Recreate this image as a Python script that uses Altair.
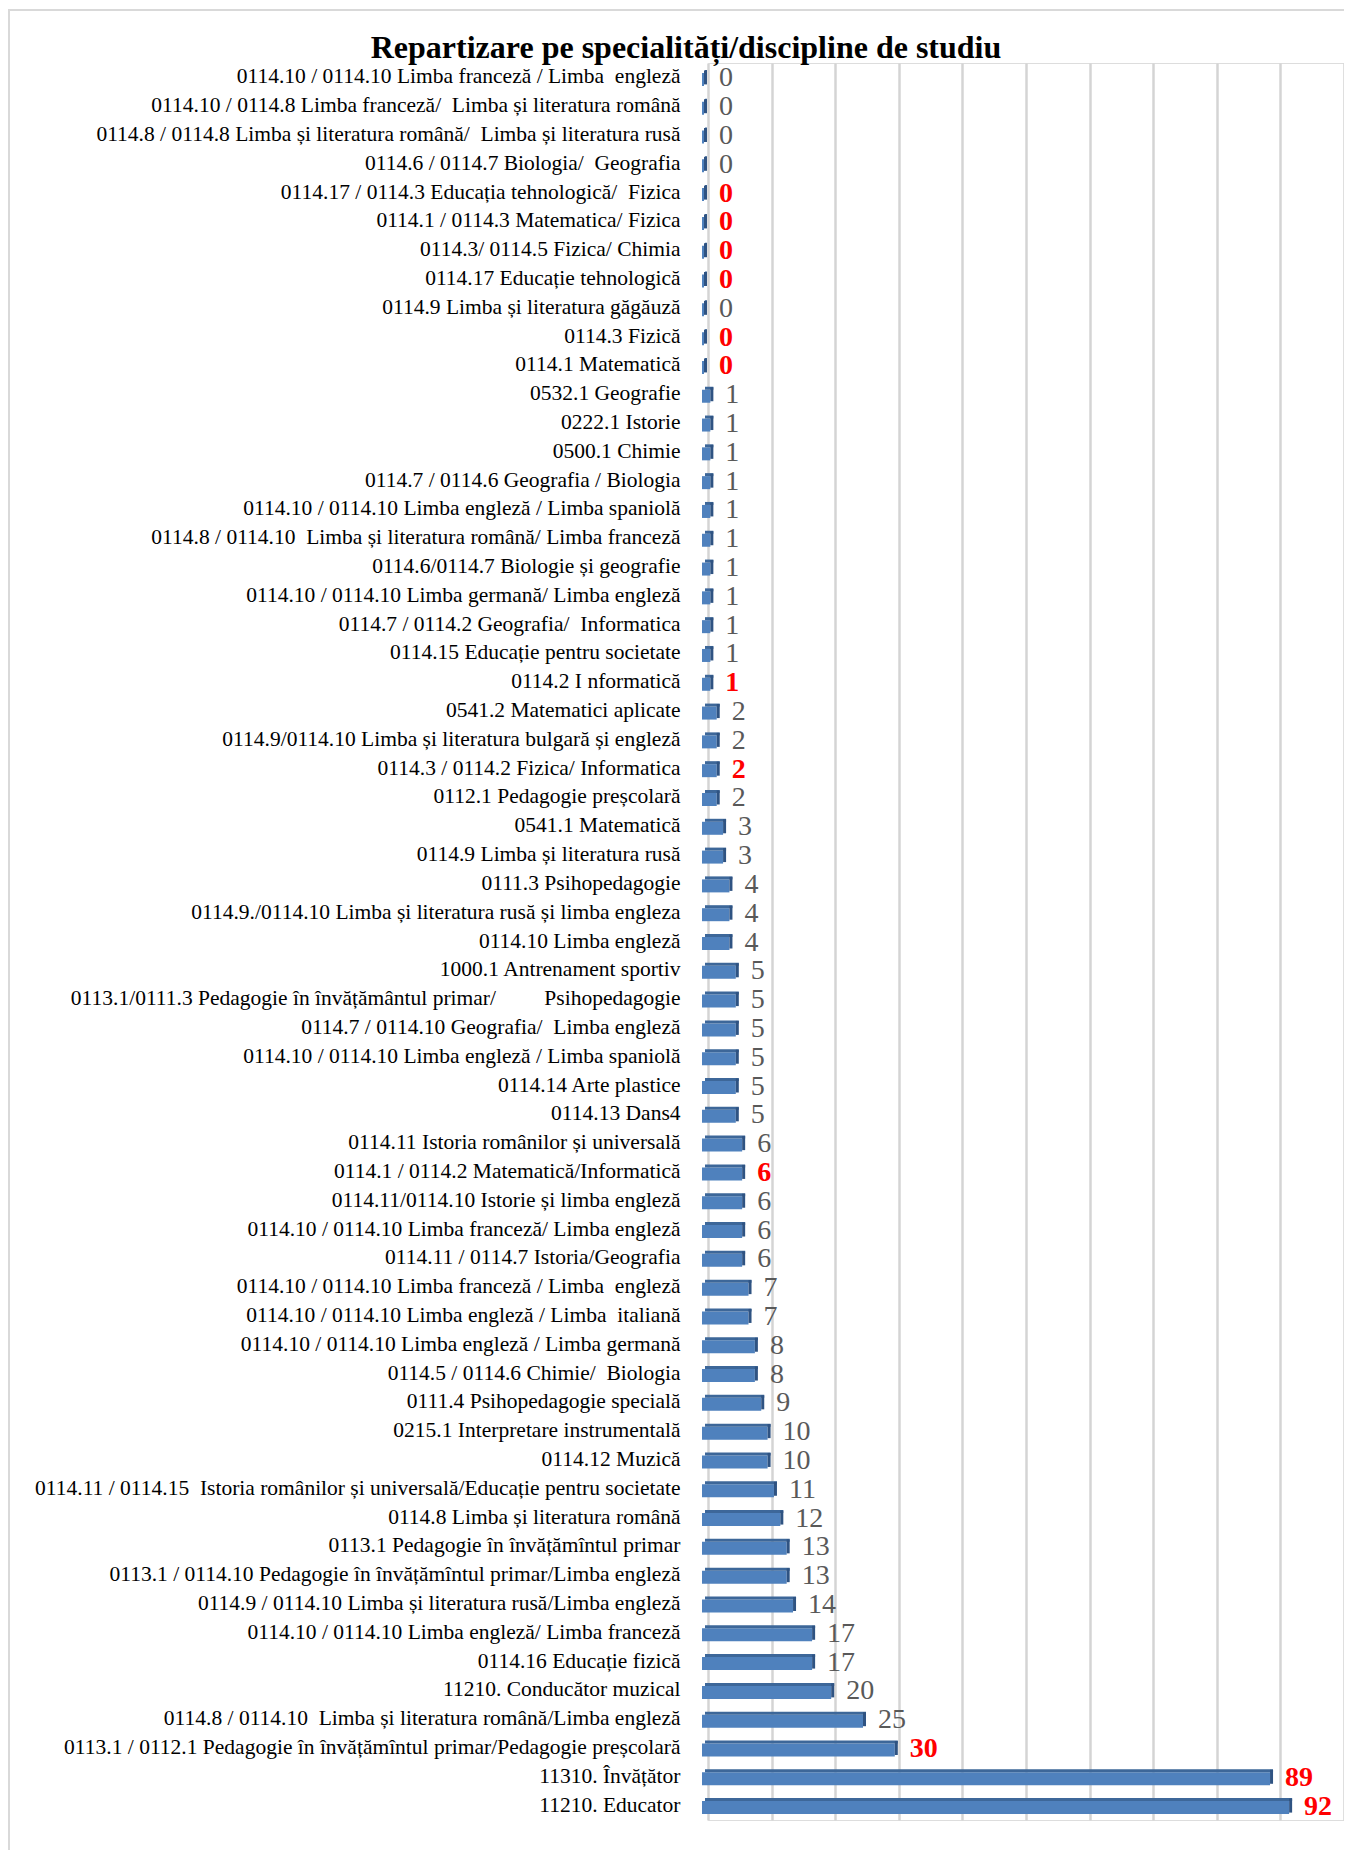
import json
import altair as alt
import pandas as pd

labels = [
    "0114.10 / 0114.10 Limba franceză / Limba  engleză",
    "0114.10 / 0114.8 Limba franceză/  Limba și literatura română",
    "0114.8 / 0114.8 Limba și literatura română/  Limba și literatura rusă ",
    "0114.6 / 0114.7 Biologia/  Geografia",
    "0114.17 / 0114.3 Educația tehnologică/  Fizica ",
    "0114.1 / 0114.3 Matematica/ Fizica ",
    "0114.3/ 0114.5 Fizica/ Chimia",
    "0114.17 Educație tehnologică",
    "0114.9 Limba și literatura găgăuză",
    "0114.3 Fizică",
    "0114.1 Matematică",
    "0532.1 Geografie",
    "0222.1 Istorie",
    "0500.1 Chimie",
    "0114.7 / 0114.6 Geografia / Biologia",
    "0114.10 / 0114.10 Limba engleză / Limba spaniolă",
    "0114.8 / 0114.10  Limba și literatura română/ Limba franceză",
    "0114.6/0114.7 Biologie și geografie",
    "0114.10 / 0114.10 Limba germană/ Limba engleză",
    "0114.7 / 0114.2 Geografia/  Informatica",
    "0114.15 Educație pentru societate",
    "0114.2 I nformatică ",
    "0541.2 Matematici aplicate",
    "0114.9/0114.10 Limba și literatura bulgară și engleză",
    "0114.3 / 0114.2 Fizica/ Informatica",
    "0112.1 Pedagogie preșcolară",
    "0541.1 Matematică",
    "0114.9 Limba și literatura rusă",
    "0111.3 Psihopedagogie",
    "0114.9./0114.10 Limba și literatura rusă și limba engleza",
    "0114.10 Limba engleză",
    "1000.1 Antrenament sportiv",
    "0113.1/0111.3 Pedagogie în învățământul primar/\u00a0\u00a0\u00a0\u00a0\u00a0\u00a0\u00a0\u00a0\u00a0Psihopedagogie",
    "0114.7 / 0114.10 Geografia/  Limba engleză",
    "0114.10 / 0114.10 Limba engleză / Limba spaniolă",
    "0114.14 Arte plastice",
    "0114.13 Dans4",
    "0114.11 Istoria românilor și universală ",
    "0114.1 / 0114.2 Matematică/Informatică",
    "0114.11/0114.10 Istorie și limba engleză",
    "0114.10 / 0114.10 Limba franceză/ Limba engleză",
    "0114.11 / 0114.7 Istoria/Geografia",
    "0114.10 / 0114.10 Limba franceză / Limba  engleză",
    "0114.10 / 0114.10 Limba engleză / Limba  italiană",
    "0114.10 / 0114.10 Limba engleză / Limba germană",
    "0114.5 / 0114.6 Chimie/  Biologia",
    "0111.4 Psihopedagogie specială",
    "0215.1 Interpretare instrumentală",
    "0114.12 Muzică",
    "0114.11 / 0114.15  Istoria românilor și universală/Educație pentru societate",
    "0114.8 Limba și literatura română",
    "0113.1 Pedagogie în învățămîntul primar",
    "0113.1 / 0114.10 Pedagogie în învățămîntul primar/Limba engleză",
    "0114.9 / 0114.10 Limba și literatura rusă/Limba engleză",
    "0114.10 / 0114.10 Limba engleză/ Limba franceză",
    "0114.16 Educație fizică",
    "11210. Conducător muzical ",
    "0114.8 / 0114.10  Limba și literatura română/Limba engleză",
    "0113.1 / 0112.1 Pedagogie în învățămîntul primar/Pedagogie preșcolară",
    "11310. Învățător ",
    "11210. Educator",
]

values = [
    0, 0, 0, 0, 0, 0, 0, 0, 0, 0, 0,
    1, 1, 1, 1, 1, 1, 1, 1, 1, 1, 1,
    2, 2, 2, 2,
    3, 3,
    4, 4, 4,
    5, 5, 5, 5, 5, 5,
    6, 6, 6, 6, 6,
    7, 7,
    8, 8,
    9,
    10, 10,
    11, 12, 13, 13, 14, 17, 17, 20, 25, 30, 89, 92,
]

highlighted = [
    0, 0, 0, 0, 1, 1, 1, 1, 0, 1, 1,
    0, 0, 0, 0, 0, 0, 0, 0, 0, 0, 1,
    0, 0, 1, 0,
    0, 0,
    0, 0, 0,
    0, 0, 0, 0, 0, 0,
    0, 1, 0, 0, 0,
    0, 0,
    0, 0,
    0,
    0, 0,
    0, 0, 0, 0, 0, 0, 0, 0, 0, 1, 1, 1,
]

df = pd.DataFrame({
    "idx": list(range(len(labels))),
    "value": values,
    "hl": highlighted,
})

label_expr = json.dumps([s.replace("  ", " \u00a0") for s in labels], ensure_ascii=False) + "[datum.value]"

W = 636
H = 1757

x_scale = alt.Scale(domain=[0, 100], nice=False, zero=True)
y_scale = alt.Scale(paddingInner=0, paddingOuter=0)

base = alt.Chart(df)

y_enc = alt.Y(
    "idx:O",
    scale=y_scale,
    sort="ascending",
    title=None,
    axis=alt.Axis(
        labelExpr=label_expr,
        labelFont="Liberation Serif",
        labelFontSize=21.5,
        labelColor="#000000",
        labelLimit=0,
        labelPadding=28,
        ticks=False,
        domain=False,
        grid=False,
    ),
)

x_enc = alt.X(
    "value:Q",
    scale=x_scale,
    title=None,
    axis=alt.Axis(
        values=list(range(0, 101, 10)),
        labels=False,
        ticks=False,
        domain=False,
        grid=True,
        gridColor="#D4D4D4",
        gridWidth=2.5,
    ),
)

# front face: from (0 - 6px) to (value - 4px)
bars = base.mark_bar(
    size=13, color="#4F81BD", yOffset=2, xOffset=-4, x2Offset=-6,
).encode(
    y=y_enc, x=x_enc, x2=alt.datum(0)
)

# top face
tops = base.mark_bar(
    size=3, color="#3D6799", yOffset=-6, xOffset=-1, x2Offset=-3,
).encode(
    y="idx:O", x="value:Q", x2=alt.datum(0)
)

# end face
ends = base.mark_bar(
    size=14, color="#2F5382", yOffset=0, xOffset=-1, x2Offset=-4,
).encode(
    y="idx:O", x="value:Q", x2="value:Q"
)

text_normal = base.transform_filter("datum.hl == 0").mark_text(
    align="left", baseline="middle", dx=11, dy=1,
    font="Liberation Serif", fontSize=28, color="#595959",
).encode(
    y="idx:O", x="value:Q", text="value:Q"
)

text_hl = base.transform_filter("datum.hl == 1").mark_text(
    align="left", baseline="middle", dx=11, dy=1,
    font="Liberation Serif", fontSize=28, fontWeight="bold", color="#FF0000",
).encode(
    y="idx:O", x="value:Q", text="value:Q"
)

frame = alt.Chart(pd.DataFrame({"k": [0]})).mark_rect(
    fill=None, stroke="#D9D9D9", strokeWidth=2
).encode(
    x=alt.value(-699), x2=alt.value(700), y=alt.value(-53), y2=alt.value(1900)
)

chart = alt.layer(frame, bars, tops, ends, text_normal, text_hl).properties(
    width=W,
    height=H,
    title=alt.TitleParams(
        "Repartizare pe specialități/discipline de studiu",
        font="Liberation Serif",
        fontSize=32,
        fontWeight="bold",
        color="#000000",
        anchor="middle",
        baseline="alphabetic",
        dx=-340,
        dy=81,
        offset=0,
    ),
    autosize=alt.AutoSizeParams(type="none"),
    padding={"left": 700, "top": 55, "right": 0, "bottom": 30},
).configure_view(
    stroke=None
).configure(background="white")

chart.save("out.html", embed_options={"renderer": "svg", "actions": False})
